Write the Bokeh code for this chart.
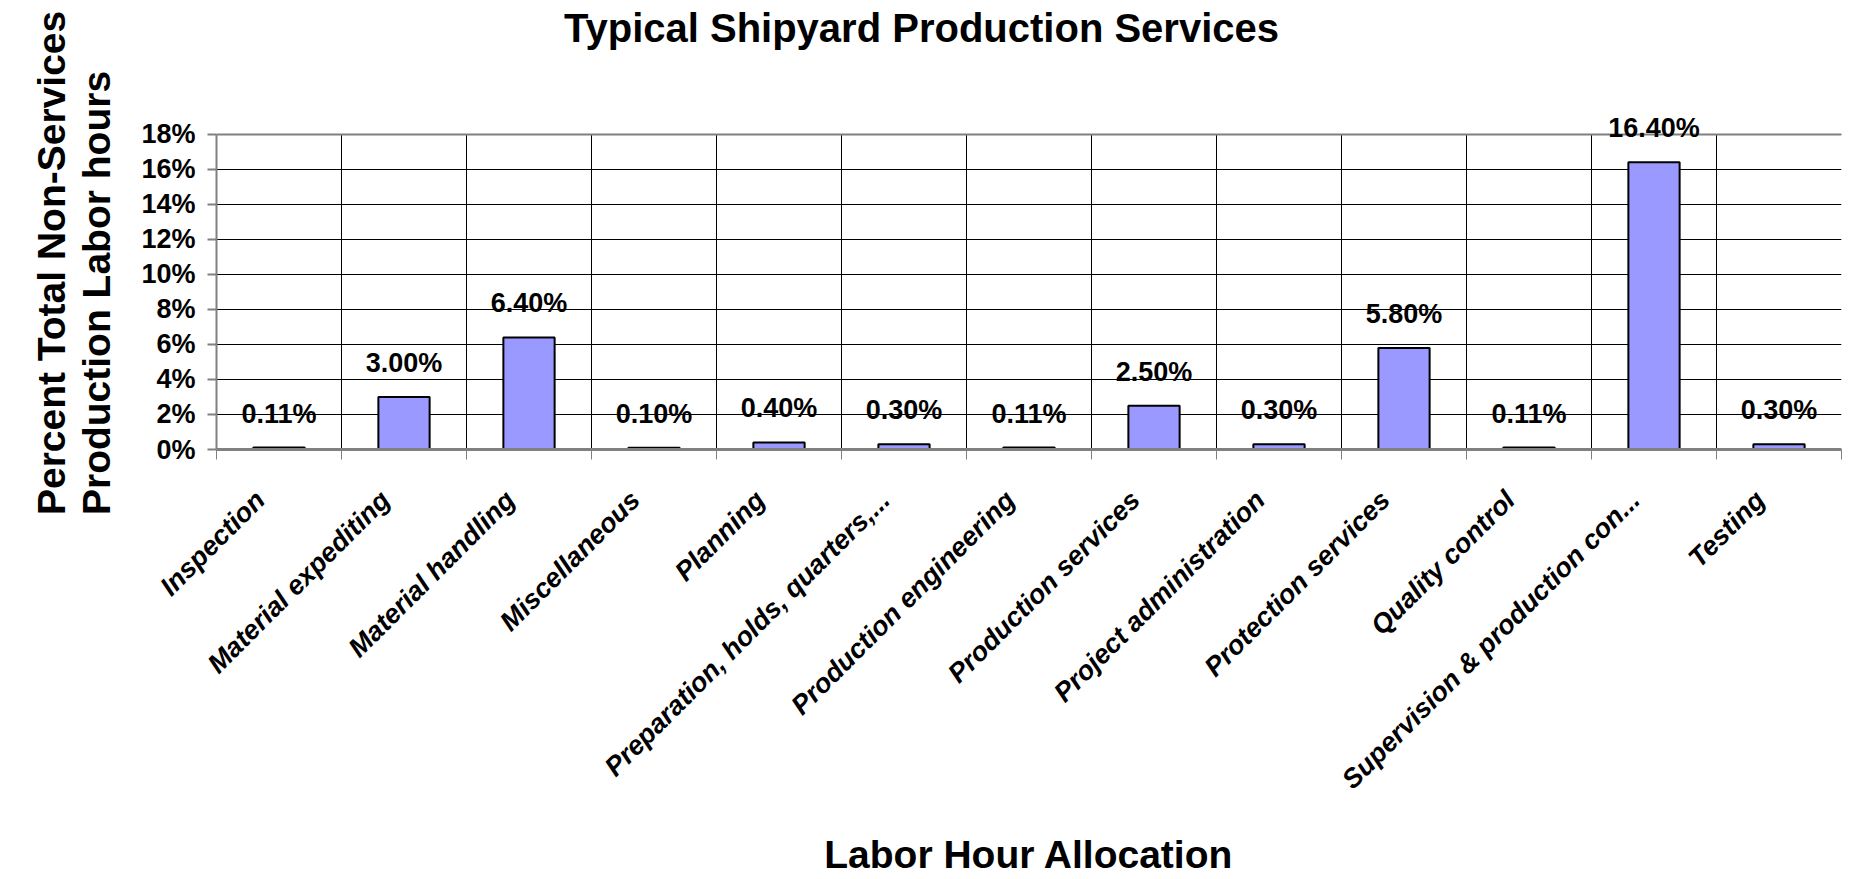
import math
from bokeh.plotting import figure
from bokeh.models import (Range1d, LinearAxis, FixedTicker, PrintfTickFormatter, Grid,
                          Label, LabelSet, ColumnDataSource, Title)
from bokeh.core.properties import value
from bokeh.embed import file_html
from bokeh.resources import INLINE

# ---------------- data ----------------
categories = [
    "Inspection", "Material expediting", "Material handling", "Miscellaneous",
    "Planning", "Preparation, holds, quarters,...", "Production engineering",
    "Production services", "Project administration", "Protection services",
    "Quality control", "Supervision & production con...", "Testing",
]
percent_values = [0.11, 3.00, 6.40, 0.10, 0.40, 0.30, 0.11, 2.50, 0.30, 5.80, 0.11, 16.40, 0.30]
y_ticks = [0, 2, 4, 6, 8, 10, 12, 14, 16, 18]
title_text = "Typical Shipyard Production Services"
x_title = "Labor Hour Allocation"
y_title_lines = ["Percent Total Non-Services", "Production Labor hours"]

FONT = "Liberation Sans"
BAR_FILL = "#9999FF"
FRAME_GREY = "#808080"

# ---------------- layout (pixels) ----------------
W, H = 1846, 879
LEFT, RIGHT, TOP = 216, 5, 0
ZERO_PX, TOP_TICK_PX = 450, 134          # pixel rows of 0% and 18%
frame_w = W - LEFT - RIGHT
frame_h = ZERO_PX - TOP
BOTTOM = H - TOP - frame_h
n = len(categories)
y_max = y_ticks[-1]
px_per_unit = (ZERO_PX - TOP_TICK_PX) / y_max
y_end = frame_h / px_per_unit             # frame extends above 18% to hold the title
centers = [i + 0.5 for i in range(n)]     # category slot centres
bounds = list(range(n + 1))               # category slot boundaries
LABEL_SHIFT = 0.15                        # rotated labels sit slightly left of slot centre
label_pos = [round(c - LABEL_SHIFT, 3) for c in centers]
PAD = "\u00a0" * 7                        # trailing pad moves the rotated title down

def px_to_x(page_x):
    return (page_x - LEFT) / frame_w * n

def px_to_y(page_y):
    return (ZERO_PX - page_y) / px_per_unit

p = figure(width=W, height=H,
           x_range=Range1d(0, n), y_range=Range1d(0, y_end),
           x_axis_location=None, title_location=None,
           output_backend="svg", toolbar_location=None,
           min_border_left=LEFT, min_border_right=RIGHT,
           min_border_top=TOP, min_border_bottom=BOTTOM)
p.background_fill_color = "white"
p.border_fill_color = "white"
p.outline_line_color = None

# y axis
ya = p.yaxis[0]
ya.ticker = FixedTicker(ticks=y_ticks)
ya.bounds = (0, y_max)
ya.formatter = PrintfTickFormatter(format="%d%%")
ya.major_label_text_font = FONT
ya.major_label_text_font_style = "bold"
ya.major_label_text_font_size = "27px"
ya.major_label_text_color = "black"
ya.major_tick_out = 9
ya.major_tick_in = 0
ya.minor_tick_out = 0
ya.minor_tick_in = 0
ya.axis_line_color = FRAME_GREY
ya.axis_line_width = 2
ya.major_tick_line_color = FRAME_GREY
ya.major_tick_line_width = 2
ya.major_label_standoff = 12

# y-axis title (two lines)
p.add_layout(Title(text="\n".join(line + PAD for line in y_title_lines), align="center",
                   standoff=41, text_font=FONT, text_font_style="bold",
                   text_font_size="39px", text_color="black", text_line_height=1.05),
             "left")

# grids
p.ygrid.ticker = FixedTicker(ticks=y_ticks)
p.ygrid.grid_line_color = "black"
p.ygrid.grid_line_width = 1
p.xgrid.visible = False
vgrid = Grid(dimension=0, ticker=FixedTicker(ticks=bounds), cross_bounds=(0, y_max),
             grid_line_color="black", grid_line_width=1)
p.add_layout(vgrid)
# plot-area border: top (18%) and right edge in grey
top_border = Grid(dimension=1, ticker=FixedTicker(ticks=[y_max]),
                  grid_line_color=FRAME_GREY, grid_line_width=2)
right_border = Grid(dimension=0, ticker=FixedTicker(ticks=[n]), cross_bounds=(0, y_max),
                    grid_line_color=FRAME_GREY, grid_line_width=3)
p.add_layout(top_border)
p.add_layout(right_border)

# category axis: labels near slot centres, tick marks at slot boundaries
cat_axis = LinearAxis(ticker=FixedTicker(ticks=label_pos, minor_ticks=bounds),
                      major_label_overrides={c: name for c, name in zip(label_pos, categories)},
                      major_tick_out=0, major_tick_in=0,
                      minor_tick_out=10, minor_tick_in=0,
                      minor_tick_line_color=FRAME_GREY, minor_tick_line_width=1,
                      axis_line_color=FRAME_GREY, axis_line_width=3,
                      major_label_orientation=math.pi / 4,
                      major_label_text_font=FONT,
                      major_label_text_font_style="bold italic",
                      major_label_text_font_size="27px",
                      major_label_text_color="black",
                      major_label_standoff=36,
                      axis_label=x_title,
                      axis_label_text_font=FONT,
                      axis_label_text_font_style="bold",
                      axis_label_text_font_size="39px",
                      axis_label_text_color="black",
                      axis_label_standoff=25)
p.add_layout(cat_axis, "below")

# bars
src = ColumnDataSource(dict(x=centers, cat=categories, val=percent_values,
                            label=[f"{v:.2f}%" for v in percent_values]))
p.vbar(x="x", top="val", width=0.41, source=src,
       fill_color=BAR_FILL, line_color="black", line_width=2)

labels = LabelSet(x="x", y="val", text="label", source=src, y_offset=25,
                  text_align="center", text_baseline="alphabetic",
                  text_font=value(FONT), text_font_style="bold", text_font_size="27px",
                  text_color="black")
p.add_layout(labels)

# chart title (inside the extended plot area, above the 18% line)
p.add_layout(Label(x=px_to_x(921), y=px_to_y(28), text=title_text,
                   text_align="center", text_baseline="middle", text_font=FONT,
                   text_font_style="bold", text_font_size="40px", text_color="black"))

open("out.html", "w").write(file_html(p, INLINE))
